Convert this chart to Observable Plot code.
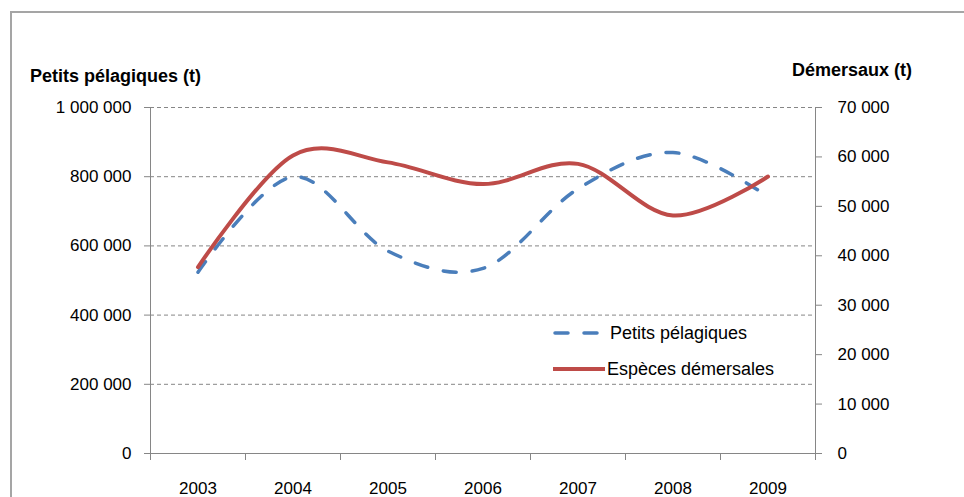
<!DOCTYPE html>
<html><head><meta charset="utf-8">
<script src="https://cdn.jsdelivr.net/npm/d3@7"></script>
<script src="https://cdn.jsdelivr.net/npm/@observablehq/plot@0.6"></script>
<style>
body{margin:0;background:#fff;overflow:hidden;}
#wrap{position:relative;width:964px;height:497px;overflow:hidden;font-family:"Liberation Sans",Arial,sans-serif;}
#frame{position:absolute;left:10px;top:11px;width:1000px;height:600px;border:2px solid #a5a5a5;box-sizing:border-box;}
#chart{position:absolute;left:0;top:0;}
#over{position:absolute;left:0;top:0;pointer-events:none;}
</style>
</head><body>
<div id="wrap"><div id="frame"></div><div id="chart"></div>
<svg id="over" width="964" height="497" font-family="Liberation Sans, Arial, sans-serif">
  <text x="30" y="82" font-size="18" font-weight="bold">Petits pélagiques (t)</text>
  <text x="912" y="76" font-size="18" font-weight="bold" text-anchor="end">Démersaux (t)</text>
  <line x1="555" y1="333" x2="600" y2="333" stroke="#4A7EBB" stroke-width="3.5" stroke-linecap="round" stroke-dasharray="13,16"/>
  <text x="610" y="339" font-size="18">Petits pélagiques</text>
  <line x1="553" y1="369" x2="605" y2="369" stroke="#BE4B48" stroke-width="4"/>
  <text x="607" y="375" font-size="18">Espèces démersales</text>
</svg>
</div>
<script>
const years = [2003, 2004, 2005, 2006, 2007, 2008, 2009];
const pelagiques = [524000, 800000, 585000, 535000, 765000, 870000, 743000];
const demersaux = [37700, 60300, 58900, 54500, 58600, 48150, 56040];
const leftTicks = [0, 200000, 400000, 600000, 800000, 1000000];
const rightTicks = [0, 10000, 20000, 30000, 40000, 50000, 60000, 70000];

const leftMax = 1000000, rightMax = 70000;
const ratio = leftMax / rightMax;
const fmt = d3.formatLocale({decimal: ",", thousands: "\u00a0", grouping: [3], currency: ["", ""]}).format(",d");
const boundaries = years.map(y => y - 0.5).concat([years[years.length - 1] + 0.5]);

const pel = years.map((y, i) => ({year: y, value: pelagiques[i]}));
const dem = years.map((y, i) => ({year: y, value: demersaux[i] * ratio}));

const chart = Plot.plot({
  width: 964, height: 497,
  marginLeft: 150, marginRight: 149, marginTop: 107, marginBottom: 44,
  x: {domain: [boundaries[0], boundaries[boundaries.length - 1]]},
  y: {domain: [0, leftMax]},
  style: {fontFamily: '"Liberation Sans",Arial,sans-serif', fontSize: "17px", color: "#000", background: "transparent", overflow: "visible"},
  marks: [
    Plot.gridY(leftTicks.filter(d => d > 0), {stroke: "#868686", strokeOpacity: 1, strokeWidth: 1, strokeDasharray: "4,3"}),
    Plot.ruleY([0], {stroke: "#868686"}),
    Plot.ruleX([boundaries[0], boundaries[boundaries.length - 1]], {stroke: "#868686"}),
    Plot.axisY(leftTicks, {anchor: "left", tickSize: 6, tickPadding: 13, tickFormat: fmt, stroke: "#868686", fill: "#000", label: null}),
    Plot.axisY(rightTicks.map(d => d * ratio), {anchor: "right", tickSize: 6, tickPadding: 16, tickFormat: d => fmt(Math.round(d / ratio)), stroke: "#868686", fill: "#000", label: null}),
    Plot.axisX(boundaries, {anchor: "bottom", tickSize: 7, tickFormat: () => "", stroke: "#868686", label: null}),
    Plot.axisX(years, {anchor: "bottom", tickSize: 0, tickPadding: 28, tickFormat: d => String(d), fill: "#000", label: null}),
    Plot.line(pel, {x: "year", y: "value", curve: "cardinal", tension: 0, stroke: "#4A7EBB", strokeWidth: 3.5, strokeDasharray: "13,16", strokeLinecap: "round"}),
    Plot.line(dem, {x: "year", y: "value", curve: "cardinal", tension: 0, stroke: "#BE4B48", strokeWidth: 4})
  ]
});
document.getElementById("chart").appendChild(chart);
</script>
</body></html>
